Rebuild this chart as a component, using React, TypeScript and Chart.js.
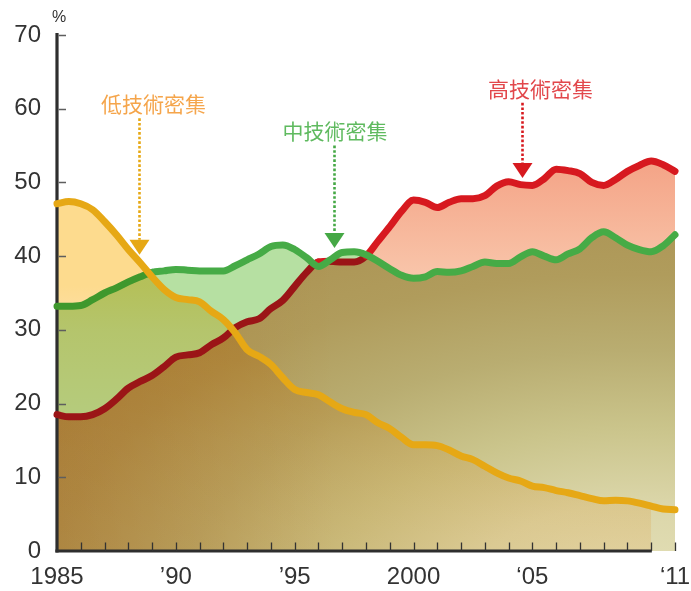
import React, { useEffect, useRef } from 'react';
import { Chart, registerables } from 'chart.js';

// ---------------- data ----------------
const years = [1985, 1985.5, 1986, 1986.5, 1987, 1987.5, 1988, 1988.5, 1989, 1989.5, 1990, 1990.5, 1991, 1991.5, 1992, 1992.5, 1993, 1993.5, 1994, 1994.5, 1995, 1995.5, 1996, 1996.5, 1997, 1997.5, 1998, 1998.5, 1999, 1999.5, 2000, 2000.5, 2001, 2001.5, 2002, 2002.5, 2003, 2003.5, 2004, 2004.5, 2005, 2005.5, 2006, 2006.5, 2007, 2007.5, 2008, 2008.5, 2009, 2009.5, 2010, 2010.5, 2011];

const lowTech = [47.1, 47.4, 47.1, 46.3, 44.7, 42.9, 40.9, 39.1, 37.2, 35.5, 34.4, 34.1, 33.8, 32.5, 31.4, 29.6, 27.3, 26.4, 25.3, 23.5, 21.9, 21.5, 21.2, 20.2, 19.3, 18.8, 18.5, 17.4, 16.6, 15.4, 14.4, 14.4, 14.3, 13.7, 12.9, 12.4, 11.5, 10.6, 9.9, 9.5, 8.8, 8.6, 8.2, 7.9, 7.5, 7.1, 6.8, 6.9, 6.8, 6.5, 6.1, 5.7, 5.6];

const midTech = [33.2, 33.2, 33.3, 34.1, 35.0, 35.7, 36.5, 37.2, 37.8, 38.0, 38.2, 38.1, 38.0, 38.0, 38.0, 38.7, 39.5, 40.3, 41.3, 41.5, 40.9, 39.8, 38.6, 39.5, 40.5, 40.6, 40.2, 39.3, 38.3, 37.4, 37.0, 37.2, 37.9, 37.8, 38.0, 38.6, 39.2, 39.0, 39.0, 39.9, 40.6, 40.0, 39.5, 40.3, 41.0, 42.5, 43.3, 42.5, 41.5, 40.9, 40.6, 41.4, 42.9];

const highTech = [18.5, 18.2, 18.2, 18.5, 19.3, 20.6, 22.1, 23.0, 23.8, 25.0, 26.3, 26.6, 26.9, 28.0, 28.9, 30.3, 31.1, 31.5, 32.9, 34.0, 35.9, 37.8, 39.2, 39.3, 39.2, 39.2, 40.0, 42.0, 44.0, 46.1, 47.6, 47.3, 46.6, 47.3, 47.8, 47.8, 48.2, 49.5, 50.1, 49.7, 49.6, 50.5, 51.8, 51.6, 51.2, 50.0, 49.6, 50.4, 51.5, 52.3, 52.9, 52.4, 51.5];

const lowFillEndYear = 2010;
const axisEndYear = 2010;
const xMin = 1985;
const xMax = 2011;
const yMin = 0;
const yMax = 70;
const yStep = 10;

const xLabelYears = [1985, 1990, 1995, 2000, 2005, 2011];
const xLabelTexts = ['1985', '\u201990', '\u201995', '2000', '\u201805', '\u201811'];
const xTickYears = [1986, 1987, 1988, 1989, 1990, 1991, 1992, 1993, 1994, 1995, 1996, 1997, 1998, 1999, 2000, 2001, 2002, 2003, 2004, 2005, 2006, 2007, 2008, 2009, 2010, 2011];
const yTickValues = [10, 20, 30, 40, 50, 60, 70];
const unitLabel = '%';

const annTexts = ['低技術密集', '中技術密集', '高技術密集'];
const annTextYears = [1989.06, 1996.7, 2005.34];
const annTextValues = [60.6, 57.0, 62.7];
const annArrowYears = [1988.44, 1996.65, 2004.56];
const annArrowTopValues = [58.7, 55.0, 60.8];
const annArrowTipValues = [40.2, 41.1, 50.6];
const annTextColors = ['#f5a54b', '#5fba5f', '#e2474b'];
const annArrowColors = ['#e6a815', '#45a845', '#d7191f'];

// ---------------- styles ----------------
const FONT = '"Liberation Sans", Arial, Helvetica, sans-serif';
const CJK = '"Noto Sans CJK TC", "Noto Sans CJK JP", sans-serif';
const yellowLine = '#e6a815';
const greenTop = '#46ab46';
const greenUnder = '#3f982d';
const redTop = '#d7191f';
const redUnder = '#9b1517';
const lightGreen = '#b6e0a2';

const IDX_GREEN_FILL = 0;
const IDX_RED_FILL = 1;
const IDX_YELLOW_FILL = 2;
const IDX_RED_LINE = 3;

function drawAxes(chart: any) {
  const { ctx, scales } = chart;
  const x = scales.x;
  const y = scales.y;
  const x0 = x.getPixelForValue(xMin);
  const yBot = y.getPixelForValue(yMin);
  const yTop = y.getPixelForValue(yMax);
  ctx.save();
  ctx.globalCompositeOperation = 'source-over';
  ctx.strokeStyle = '#2e2e2e';
  ctx.lineWidth = 3.2;
  ctx.lineCap = 'butt';
  ctx.beginPath();
  ctx.moveTo(x0, yTop - 2);
  ctx.lineTo(x0, yBot + 1.6);
  ctx.stroke();
  ctx.beginPath();
  ctx.moveTo(x0 - 1.6, yBot);
  ctx.lineTo(x.getPixelForValue(axisEndYear) + 0.6, yBot);
  ctx.stroke();
  // y ticks (inward)
  ctx.strokeStyle = '#5e5e5e';
  ctx.lineWidth = 1.3;
  ctx.beginPath();
  yTickValues.forEach((v) => {
    const py = Math.round(y.getPixelForValue(v)) + 0.5;
    ctx.moveTo(x0 + 1.6, py);
    ctx.lineTo(x0 + 9, py);
  });
  ctx.stroke();
  // x ticks (inward)
  ctx.strokeStyle = '#333';
  ctx.beginPath();
  xTickYears.forEach((yr) => {
    const px = Math.round(x.getPixelForValue(yr)) + 0.5;
    ctx.moveTo(px, yBot);
    ctx.lineTo(px, yBot - 8.5);
  });
  ctx.stroke();
  // unit
  ctx.fillStyle = '#333';
  ctx.font = `16px ${FONT}`;
  ctx.textAlign = 'center';
  ctx.textBaseline = 'middle';
  ctx.fillText(unitLabel, x0 + 2, yTop - 17);
  ctx.restore();
}

function drawAnnotations(chart: any) {
  const { ctx, scales } = chart;
  const x = scales.x;
  const y = scales.y;
  ctx.save();
  annTexts.forEach((t, i) => {
    ctx.font = `21px ${CJK}`;
    ctx.fillStyle = annTextColors[i];
    ctx.textAlign = 'center';
    ctx.textBaseline = 'middle';
    ctx.fillText(t, x.getPixelForValue(annTextYears[i]), y.getPixelForValue(annTextValues[i]));
    const ax = Math.round(x.getPixelForValue(annArrowYears[i])) + 0.5;
    const top = y.getPixelForValue(annArrowTopValues[i]);
    const tip = y.getPixelForValue(annArrowTipValues[i]);
    const headH = 15;
    const headW = 20;
    ctx.strokeStyle = annArrowColors[i];
    ctx.lineWidth = 2.6;
    ctx.setLineDash([2.6, 2]);
    ctx.beginPath();
    ctx.moveTo(ax, top);
    ctx.lineTo(ax, tip - headH);
    ctx.stroke();
    ctx.setLineDash([]);
    ctx.fillStyle = annArrowColors[i];
    ctx.beginPath();
    ctx.moveTo(ax - headW / 2, tip - headH);
    ctx.lineTo(ax + headW / 2, tip - headH);
    ctx.lineTo(ax, tip);
    ctx.closePath();
    ctx.fill();
  });
  ctx.restore();
}

const layerPlugin = {
  id: 'resketchLayers',
  beforeDatasetDraw(chart: any, args: any) {
    if (args.index === IDX_RED_LINE) drawAxes(chart);
    chart.ctx.globalCompositeOperation = args.index === IDX_YELLOW_FILL ? 'multiply' : 'source-over';
  },
  afterDatasetDraw(chart: any) {
    chart.ctx.globalCompositeOperation = 'source-over';
  },
  afterDraw(chart: any) {
    drawAnnotations(chart);
  },
};

Chart.register(layerPlugin as any, ...registerables);

function pts(arr: (number | null)[]) {
  return years.map((yr, i) => ({ x: yr, y: arr[i] }));
}

function applyFills(chart: any) {
  const { ctx, chartArea: a, scales } = chart;
  const x = scales.x;
  const y = scales.y;
  const w = a.right - a.left;
  const h = a.bottom - a.top;

  // brown overlap region: elliptical glow toward lower right + warm tint on the left
  const off = document.createElement('canvas');
  off.width = chart.width;
  off.height = chart.height;
  const o = off.getContext('2d')!;
  const cx = x.getPixelForValue(2009.5);
  const cy = y.getPixelForValue(-6.5);
  const rx = w * 1.13;
  const ry = h * 0.74;
  o.save();
  o.translate(cx, cy);
  o.scale(rx / ry, 1);
  const rg = o.createRadialGradient(0, 0, 0, 0, 0, ry);
  rg.addColorStop(0, '#e5e1ba');
  rg.addColorStop(0.25, '#dbd6a9');
  rg.addColorStop(0.45, '#cac48b');
  rg.addColorStop(0.65, '#b9ad71');
  rg.addColorStop(0.85, '#b09c5c');
  rg.addColorStop(1, '#ad9656');
  o.fillStyle = rg;
  o.fillRect(-cx * (ry / rx) - 10, -cy - 10, off.width * (ry / rx) + 20, off.height + 20);
  o.restore();
  o.globalCompositeOperation = 'multiply';
  const tg = o.createLinearGradient(a.left, 0, a.left + w * 0.45, 0);
  tg.addColorStop(0, '#fbe8d0');
  tg.addColorStop(1, '#ffffff');
  o.fillStyle = tg;
  o.fillRect(0, 0, off.width, off.height);
  const brown = ctx.createPattern(off, 'no-repeat');

  const salmon = ctx.createLinearGradient(0, y.getPixelForValue(53), 0, y.getPixelForValue(36));
  salmon.addColorStop(0, '#f4a386');
  salmon.addColorStop(1, '#f9c8ad');

  const y47 = y.getPixelForValue(47);
  const y0 = y.getPixelForValue(0);
  const yellow = ctx.createLinearGradient(0, y47, 0, y0);
  const st = (v: number) => (y.getPixelForValue(v) - y47) / (y0 - y47);
  yellow.addColorStop(0, '#fddb8e');
  yellow.addColorStop(st(36), '#fddb8e');
  yellow.addColorStop(st(30), '#fde0aa');
  yellow.addColorStop(st(15), '#feeacc');
  yellow.addColorStop(1, '#fff1df');

  chart.data.datasets[IDX_GREEN_FILL].backgroundColor = brown;
  chart.data.datasets[IDX_RED_FILL].fill = { target: IDX_GREEN_FILL, above: salmon, below: lightGreen };
  chart.data.datasets[IDX_YELLOW_FILL].backgroundColor = yellow;
  chart.update();
}

export default function App() {
  const ref = useRef<HTMLCanvasElement>(null);
  useEffect(() => {
    document.body.style.margin = '0';
    const canvas = ref.current!;
    const lowFill = lowTech.map((v, i) => (years[i] <= lowFillEndYear ? v : null));
    const common = {
      pointRadius: 0,
      pointHoverRadius: 0,
      cubicInterpolationMode: 'monotone' as const,
      clip: 12,
    };
    const fillDs = { ...common, borderWidth: 0, borderColor: 'rgba(0,0,0,0)' };
    const lineDs = { ...common, borderWidth: 7, borderCapStyle: 'round' as const, borderJoinStyle: 'round' as const, fill: false };
    const chart = new Chart(canvas, {
      type: 'line',
      data: {
        datasets: [
          { ...fillDs, label: 'mid-fill', data: pts(midTech), fill: 'origin', backgroundColor: '#b09c5c', order: 6 },
          { ...fillDs, label: 'high-fill', data: pts(highTech), fill: { target: IDX_GREEN_FILL, above: '#f6b396', below: lightGreen }, backgroundColor: '#f6b396', order: 5 },
          { ...fillDs, label: 'low-fill', data: pts(lowFill), fill: 'origin', backgroundColor: '#fddb8e', order: 4 },
          {
            ...lineDs, label: '高技術密集', data: pts(highTech), borderColor: redTop, order: 3,
            segment: {
              borderColor: (c: any) => (highTech[c.p0DataIndex] + highTech[c.p1DataIndex] < midTech[c.p0DataIndex] + midTech[c.p1DataIndex] ? redUnder : redTop),
            },
          },
          {
            ...lineDs, label: '中技術密集', data: pts(midTech), borderColor: greenTop, order: 2,
            segment: {
              borderColor: (c: any) => (midTech[c.p0DataIndex] + midTech[c.p1DataIndex] < lowTech[c.p0DataIndex] + lowTech[c.p1DataIndex] ? greenUnder : greenTop),
            },
          },
          { ...lineDs, label: '低技術密集', data: pts(lowTech), borderColor: yellowLine, order: 1 },
        ],
      },
      options: {
        responsive: false,
        animation: false,
        devicePixelRatio: 1,
        layout: { padding: { top: 35, right: 16, left: 0, bottom: 0 } },
        plugins: { legend: { display: false }, tooltip: { enabled: false }, filler: { drawTime: 'beforeDatasetDraw' } },
        events: [],
        scales: {
          x: {
            type: 'linear',
            min: xMin,
            max: xMax,
            grid: { display: false, drawTicks: false },
            border: { display: false },
            afterBuildTicks: (s: any) => {
              s.ticks = xLabelYears.map((v) => ({ value: v }));
            },
            afterFit: (s: any) => {
              s.height = 40;
              s.paddingLeft = 0;
              s.paddingRight = 0;
            },
            ticks: {
              autoSkip: false,
              maxRotation: 0,
              minRotation: 0,
              padding: 12,
              color: '#333',
              font: { family: FONT, size: 24 },
              callback: (v: any) => {
                const k = xLabelYears.indexOf(Number(v));
                return k >= 0 ? xLabelTexts[k] : '';
              },
            },
          },
          y: {
            min: yMin,
            max: yMax,
            grid: { display: false, drawTicks: false },
            border: { display: false },
            afterFit: (s: any) => {
              s.width = 57;
              s.paddingTop = 0;
              s.paddingBottom = 0;
            },
            ticks: {
              stepSize: yStep,
              padding: 16,
              color: '#333',
              font: { family: FONT, size: 24 },
            },
          },
        },
      },
    } as any);
    applyFills(chart);
    return () => chart.destroy();
  }, []);
  return <canvas ref={ref} width={691} height={591} style={{ display: 'block', width: 691, height: 591 }} />;
}
